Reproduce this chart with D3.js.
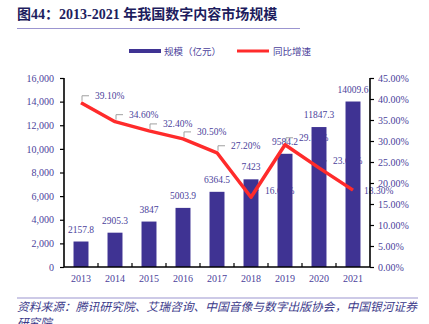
<!DOCTYPE html>
<html>
<head>
<meta charset="utf-8">
<script src="https://cdn.jsdelivr.net/npm/d3@7"></script>
<style>
  body { margin: 0; background: #fff; }
  svg { display: block; }
</style>
</head>
<body>
<script>
var years = ["2013", "2014", "2015", "2016", "2017", "2018", "2019", "2020", "2021"];
var scaleValues = [2157.8, 2905.3, 3847, 5003.9, 6364.5, 7423, 9584.2, 11847.3, 14009.6];
var growthValues = [39.1, 34.6, 32.4, 30.5, 27.2, 16.6, 29.1, 23.6, 18.3];
var leftTicks = [0, 2000, 4000, 6000, 8000, 10000, 12000, 14000, 16000];
var rightTicks = [0, 5, 10, 15, 20, 25, 30, 35, 40, 45];

var width = 429, height = 324;
var serif = "'Liberation Serif', 'Times New Roman', 'Noto Sans CJK SC', serif";
var barColor = "#3f3393";
var textColor = "#4b3f9b";
var lineColor = "#ff2b2b";

var svg = d3.select("body").append("svg")
    .attr("width", width)
    .attr("height", height);

// title + rule under it
svg.append("text")
    .attr("x", 17)
    .attr("y", 19)
    .attr("font-family", serif)
    .attr("font-size", 14)
    .attr("font-weight", "bold")
    .attr("fill", "#1d1d5e")
    .text("图44：2013-2021 年我国数字内容市场规模");

svg.append("line")
    .attr("x1", 17).attr("x2", 300)
    .attr("y1", 28.5).attr("y2", 28.5)
    .attr("stroke", "#9b95d0")
    .attr("stroke-width", 1.2);

var x = d3.scaleBand()
    .domain(years)
    .range([64, 370])
    .paddingInner(0.56)
    .paddingOuter(0.28);

var yLeft = d3.scaleLinear().domain([0, 16000]).range([267, 78]);
var yRight = d3.scaleLinear().domain([0, 45]).range([267, 78]);

// legend
svg.append("rect")
    .attr("x", 129).attr("y", 49)
    .attr("width", 32).attr("height", 4)
    .attr("fill", barColor);
svg.append("text")
    .attr("x", 164).attr("y", 54.5)
    .attr("font-family", serif)
    .attr("font-size", 9.5)
    .attr("fill", textColor)
    .text("规模（亿元）");
svg.append("line")
    .attr("x1", 237).attr("x2", 269)
    .attr("y1", 51).attr("y2", 51)
    .attr("stroke", lineColor)
    .attr("stroke-width", 3);
svg.append("text")
    .attr("x", 273).attr("y", 54.5)
    .attr("font-family", serif)
    .attr("font-size", 9.5)
    .attr("fill", textColor)
    .text("同比增速");

var cx = function (d, i) { return x(years[i]) + x.bandwidth() / 2; };

// growth labels with callouts (sit under the bars)
var callouts = svg.append("g");
growthValues.forEach(function (v, i) {
    var px = cx(v, i), py = yRight(v);
    var label = v.toFixed(2) + "%";
    if (i === growthValues.length - 1) {
        callouts.append("text")
            .attr("x", px + 11).attr("y", py + 3.5)
            .attr("font-family", serif).attr("font-size", 9.5)
            .attr("fill", textColor)
            .text(label);
        return;
    }
    var ty = py - 7;
    callouts.append("path")
        .attr("d", "M" + (px + 1) + "," + (py - 2) + "V" + ty + "H" + (px + 8))
        .attr("fill", "none")
        .attr("stroke", "#a0a0a0")
        .attr("stroke-width", 1);
    callouts.append("text")
        .attr("x", px + 14).attr("y", ty + 3.5)
        .attr("font-family", serif).attr("font-size", 9.5)
        .attr("fill", textColor)
        .text(label);
});

// bars
svg.append("g").selectAll("rect")
    .data(scaleValues)
    .join("rect")
    .attr("x", function (d, i) { return x(years[i]); })
    .attr("y", function (d) { return yLeft(d); })
    .attr("width", x.bandwidth())
    .attr("height", function (d) { return yLeft(0) - yLeft(d); })
    .attr("fill", barColor);

svg.append("g").selectAll("text")
    .data(scaleValues)
    .join("text")
    .attr("x", cx)
    .attr("y", function (d) { return yLeft(d) - 9; })
    .attr("text-anchor", "middle")
    .attr("font-family", serif)
    .attr("font-size", 9.5)
    .attr("fill", textColor)
    .text(function (d) { return String(d); });

// growth line
var line = d3.line()
    .x(function (d, i) { return cx(d, i); })
    .y(function (d) { return yRight(d); });

svg.append("path")
    .datum(growthValues)
    .attr("d", line)
    .attr("fill", "none")
    .attr("stroke", lineColor)
    .attr("stroke-width", 3.5)
    .attr("stroke-linejoin", "round");

// axes
var leftAxis = svg.append("g")
    .attr("transform", "translate(64,0)")
    .call(d3.axisLeft(yLeft).tickValues(leftTicks).tickSize(4).tickPadding(6)
        .tickFormat(d3.format(",")));

var rightAxis = svg.append("g")
    .attr("transform", "translate(370,0)")
    .call(d3.axisRight(yRight).tickValues(rightTicks).tickSize(4).tickPadding(4)
        .tickFormat(function (d) { return d.toFixed(2) + "%"; }));

var bottomAxis = svg.append("g")
    .attr("transform", "translate(0,267)")
    .call(d3.axisBottom(x).tickSize(0).tickPadding(8));

// x-axis ticks point up, between categories
svg.append("g").selectAll("line")
    .data(years.slice(1))
    .join("line")
    .attr("x1", function (d) { return x(d) - x.step() * x.paddingInner() / 2; })
    .attr("x2", function (d) { return x(d) - x.step() * x.paddingInner() / 2; })
    .attr("y1", 267).attr("y2", 263)
    .attr("stroke", "#000")
    .attr("stroke-width", 1.2);

[leftAxis, rightAxis, bottomAxis].forEach(function (g) {
    g.select(".domain").attr("stroke", "#000").attr("stroke-width", 1.6);
    g.selectAll(".tick line").attr("stroke", "#000").attr("stroke-width", 1.2);
    g.selectAll(".tick text")
        .attr("font-family", serif)
        .attr("font-size", 10)
        .attr("fill", textColor);
});
leftAxis.select(".domain").attr("d", "M0,78V267");
rightAxis.select(".domain").attr("d", "M0,78V267");
bottomAxis.select(".domain").attr("d", "M64,0H370");

// source note
svg.append("line")
    .attr("x1", 17).attr("x2", 418)
    .attr("y1", 298).attr("y2", 298)
    .attr("stroke", "#9b95d0")
    .attr("stroke-width", 1.2);

var source = svg.append("text")
    .attr("font-family", serif)
    .attr("font-size", 11.6)
    .attr("font-style", "italic")
    .attr("fill", "#3b3a8a");
source.append("tspan").attr("x", 17).attr("y", 311)
    .attr("textLength", 400)
    .attr("lengthAdjust", "spacingAndGlyphs")
    .text("资料来源：腾讯研究院、艾瑞咨询、中国音像与数字出版协会，中国银河证券");
source.append("tspan").attr("x", 17).attr("y", 327)
    .text("研究院");
</script>
</body>
</html>
